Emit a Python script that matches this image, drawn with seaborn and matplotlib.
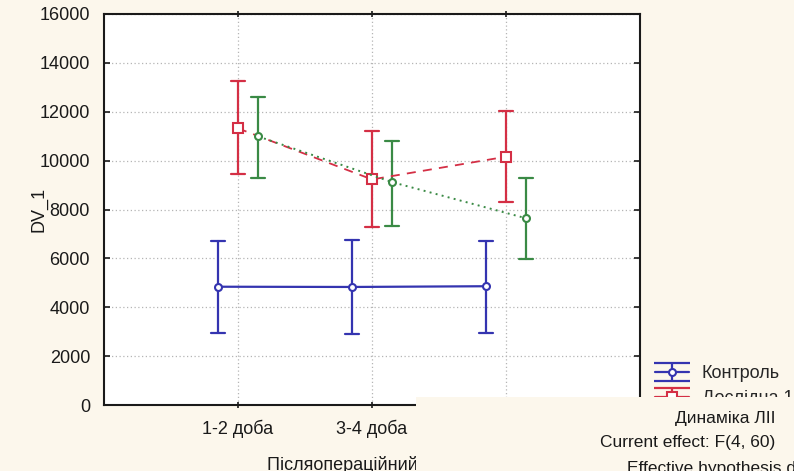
import numpy as np
import pandas as pd
import seaborn as sns
import matplotlib.pyplot as plt
from matplotlib.lines import Line2D
from matplotlib.collections import LineCollection
from matplotlib.container import ErrorbarContainer
from matplotlib.patches import Rectangle

# Post-operative days and study groups
days = ["1-2 доба", "3-4 доба", "5-6 доба"]
groups = ["Контроль", "Дослідна 1", "Дослідна 2"]

# Means and 0.95 confidence limits for each group
control_mean = [4840, 4830, 4860]
control_low = [2960, 2900, 2960]
control_high = [6710, 6760, 6700]

exp1_mean = [11320, 9230, 10160]
exp1_low = [9450, 7280, 8290]
exp1_high = [13260, 11220, 12030]

exp2_mean = [10990, 9120, 7640]
exp2_low = [9300, 7340, 5970]
exp2_high = [12600, 10810, 9280]

y_ticks = [0, 2000, 4000, 6000, 8000, 10000, 12000, 14000, 16000]

colors = {"Контроль": "#3434b0", "Дослідна 1": "#d42f45", "Дослідна 2": "#3a8a45"}
markers = ["o", "s", "o"]
linestyles = ["-", (0, (5, 4)), (0, (1, 2.2))]
marker_sizes = [5, 7, 5]
line_widths = [1.6, 1.3, 1.4]

# Long table: low / mean / high per cell so that median + full range
# reproduces the mean and its interval
series = {
    "Контроль": (control_low, control_mean, control_high),
    "Дослідна 1": (exp1_low, exp1_mean, exp1_high),
    "Дослідна 2": (exp2_low, exp2_mean, exp2_high),
}
rows = []
for g, (lo, mid, hi) in series.items():
    for d, a, b, c in zip(days, lo, mid, hi):
        for v in (a, b, c):
            rows.append({"day": d, "group": g, "DV_1": v})
df = pd.DataFrame(rows)

sns.set_theme(style="white")
plt.rcParams["font.family"] = ["Liberation Sans", "DejaVu Sans"]
fs = 13

bg = "#fcf7ec"
fig = plt.figure(figsize=(7.94, 4.71), dpi=100, facecolor=bg)
ax = fig.add_axes([104 / 794, 1 - 405 / 471, 536 / 794, 391 / 471])
ax.set_facecolor("white")

sns.pointplot(
    data=df, x="day", y="DV_1", hue="group", order=days, hue_order=groups,
    estimator="median", errorbar=("pi", 100), dodge=0.3,
    palette=colors, markers=markers, linestyles=linestyles,
    capsize=0.11, err_kws={"linewidth": 1.6, "linestyle": "-"},
    legend=False, ax=ax,
)

# Style the mean lines: open markers drawn above the interval bars
main_lines = [ln for ln in ax.lines if ln.get_marker() not in ("None", "", None)]
for ln, ms, lw, ls in zip(main_lines, marker_sizes, line_widths, linestyles):
    ln.set_markerfacecolor("white")
    ln.set_markersize(ms)
    ln.set_markeredgewidth(1.5)
    ln.set_linewidth(lw)
    ln.set_linestyle(ls)
    ln.set_zorder(5)

ax.set_xlim(-1, 3)
ax.set_ylim(0, 16000)
ax.set_yticks(y_ticks)
ax.set_yticklabels([str(t) for t in y_ticks])

ax.grid(True, color="#b5b5b5", linestyle=(0, (1, 2)), linewidth=0.9)
ax.set_axisbelow(True)
for sp in ax.spines.values():
    sp.set_visible(True)
    sp.set_color("#1a1a1a")
    sp.set_linewidth(1.5)

ax.tick_params(axis="y", which="both", direction="in", length=4, width=1.2,
               left=True, right=True, pad=10, labelsize=fs, colors="#1a1a1a")
ax.tick_params(axis="x", which="both", direction="inout", length=5, width=1.2,
               bottom=True, top=True, pad=8, labelsize=fs, colors="#1a1a1a")

ax.set_xlabel("Післяопераційний період", fontsize=fs, labelpad=13, color="#1a1a1a")
ax.set_ylabel("DV_1", fontsize=fs, color="#1a1a1a")
ax.yaxis.set_label_coords(-0.105, 0.5)


def legend_proxy(color, marker, ms, ls):
    line = Line2D([], [], color=color, linestyle=ls, linewidth=1.6, marker=marker,
                  markersize=ms, markerfacecolor="white", markeredgecolor=color,
                  markeredgewidth=1.5)
    cap = Line2D([], [], color=color, marker="_", markersize=26,
                 markeredgewidth=1.6, linestyle="none")
    bars = LineCollection([], colors=color, linewidths=1.6)
    return ErrorbarContainer((line, (cap, cap), (bars,)), has_xerr=False, has_yerr=True)


handles = [legend_proxy(colors[g], m, ms, "-")
           for g, m, ms in zip(groups, markers, marker_sizes)]
fig.legend(handles, groups, loc="upper left",
           bbox_to_anchor=(655 / 794, 1 - 365 / 471), frameon=False,
           borderpad=0, borderaxespad=0, handlelength=1.9, handletextpad=0.7,
           labelspacing=0.45, fontsize=fs)

# Summary panel overlapping the lower right corner
panel = Rectangle((416 / 794, 0), 1 - 416 / 794, 1 - 397 / 471,
                  transform=fig.transFigure, facecolor=bg, edgecolor="none",
                  zorder=20)
fig.patches.append(panel)
fig.text(675 / 794, 1 - 418 / 471, "Динаміка ЛІІ", ha="left", va="center",
         fontsize=12.5, color="#1a1a1a", zorder=21)
fig.text(600 / 794, 1 - 442 / 471, "Current effect: F(4, 60)", ha="left",
         va="center", fontsize=12.5, color="#1a1a1a", zorder=21)
fig.text(627 / 794, 1 - 468 / 471, "Effective hypothesis decomposition",
         ha="left", va="center", fontsize=12.5, color="#1a1a1a", zorder=21)

fig.savefig("out.png", dpi=100, facecolor=bg)
